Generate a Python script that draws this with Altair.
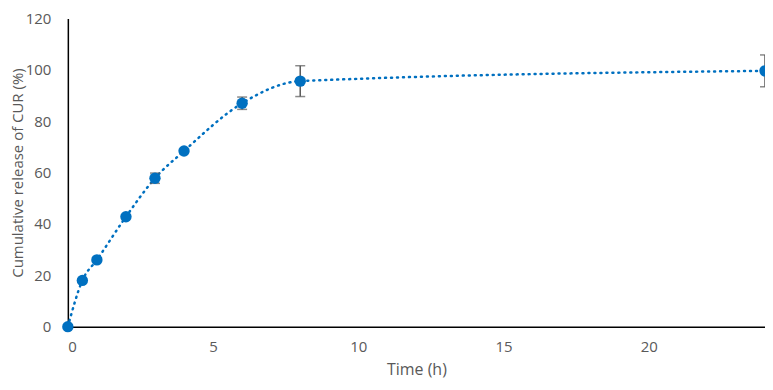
import altair as alt
import pandas as pd

time_h = [0, 0.5, 1, 2, 3, 4, 6, 8, 24]
release = [0, 18.0, 26.0, 42.8, 57.8, 68.4, 87.0, 95.6, 99.6]
sd = [0, 0, 0, 0, 2.0, 0, 2.4, 6.0, 6.2]

df = pd.DataFrame({"t": time_h, "r": release, "sd": sd})
df["lo"] = df["r"] - df["sd"]
df["hi"] = df["r"] + df["sd"]
err = df[df["sd"] > 0]

FONT = "Open Sans"
GRAY = "#595959"
BLUE = "#0070C0"

x = alt.X("t:Q", scale=alt.Scale(domain=[0, 24], nice=False),
          axis=alt.Axis(values=[0, 5, 10, 15, 20], title="Time (h)", grid=False,
                        ticks=False, domainColor="black", domainWidth=1.5,
                        labelColor=GRAY, titleColor=GRAY, labelFontSize=15,
                        titleFontSize=16, titleFontWeight="normal", labelPadding=13,
                        titlePadding=7, labelFont=FONT, titleFont=FONT))
y = alt.Y("r:Q", scale=alt.Scale(domain=[0, 120], nice=False),
          axis=alt.Axis(values=[0, 20, 40, 60, 80, 100, 120],
                        title="Cumulative release of CUR (%)", grid=False,
                        ticks=False, domainColor="black", domainWidth=1.5,
                        labelColor=GRAY, titleColor=GRAY, labelFontSize=15,
                        titleFontSize=15, titleFontWeight="normal", labelPadding=17,
                        titlePadding=0, labelFont=FONT, titleFont=FONT))

base = alt.Chart(df)

line = base.mark_line(color=BLUE, strokeWidth=2.5, strokeDash=[1, 5],
                      strokeCap="round", interpolate="monotone").encode(x=x, y=y)

rules = alt.Chart(err).mark_rule(color=GRAY, strokeWidth=1.5).encode(
    x="t:Q", y="lo:Q", y2="hi:Q")
cap_hi = alt.Chart(err).mark_tick(color=GRAY, orient="horizontal", size=10,
                                  thickness=1.5).encode(x="t:Q", y="hi:Q")
cap_lo = alt.Chart(err).mark_tick(color=GRAY, orient="horizontal", size=10,
                                  thickness=1.5).encode(x="t:Q", y="lo:Q")

points = base.mark_point(filled=True, color=BLUE, size=130, opacity=1).encode(x=x, y=y)

chart = alt.layer(line, rules, cap_hi, cap_lo, points).properties(
    width=699, height=309,
    autosize=alt.AutoSizeParams(type="none"),
    padding={"left": 60, "top": 10, "right": 0, "bottom": 55},
).configure_view(stroke=None)

chart.save("out.html", embed_options={"renderer": "svg", "actions": False})
